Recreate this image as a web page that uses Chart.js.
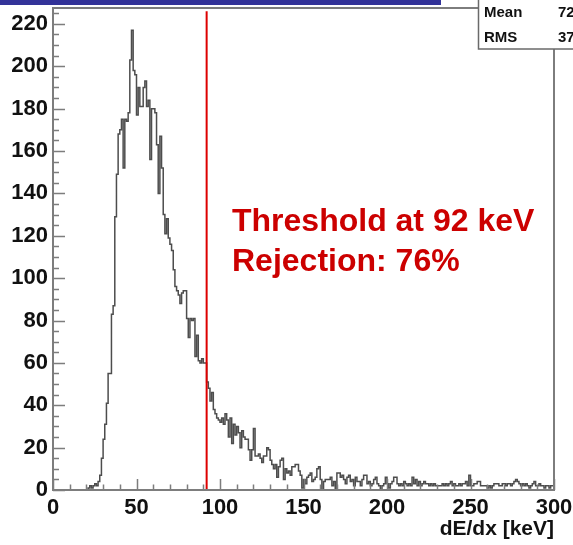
<!DOCTYPE html>
<html>
<head>
<meta charset="utf-8">
<script src="https://cdn.jsdelivr.net/npm/chart.js@4.4.1/dist/chart.umd.min.js"></script>
<style>
  html, body { margin: 0; padding: 0; background: #fff; }
  #wrap { width: 573px; height: 545px; }
</style>
</head>
<body>
<div id="wrap"><canvas id="hist" width="573" height="545"></canvas></div>
<script>
// dE/dx histogram, 1 keV bins from 0 to 300 keV
const xMin = 0;
const xMax = 300;
const binWidth = 1;
const counts = [
  0, 0, 0, 0, 0, 0, 0, 0, 0, 0, 0, 0, 0, 0, 0, 0, 0, 0, 0, 0,
  0, 1, 2, 1, 2, 3, 2, 4, 7, 15, 24, 31, 41, 55, 55, 83, 87, 129, 149, 168,
  170, 175, 152, 175, 174, 178, 203, 217, 198, 196, 177, 190, 181, 181, 190, 193, 181, 184, 156, 180,
  180, 178, 163, 140, 167, 152, 130, 121, 128, 119, 116, 113, 104, 96, 94, 92, 88, 93, 94, 94,
  81, 72, 81, 80, 81, 63, 73, 61, 60, 62, 60, 60, 51, 48, 42, 46, 38, 36, 34, 33,
  32, 34, 31, 36, 33, 25, 34, 22, 31, 26, 30, 27, 20, 28, 25, 24, 24, 19, 14, 19,
  29, 16, 16, 17, 15, 13, 16, 16, 20, 19, 14, 12, 10, 12, 6, 11, 14, 15, 5, 10,
  8, 9, 7, 11, 11, 12, 12, 9, 7, 1, 5, 3, 6, 7, 8, 4, 5, 6, 10, 11,
  5, 0, 4, 5, 5, 5, 6, 2, 4, 0, 8, 8, 6, 7, 5, 3, 6, 7, 4, 5,
  2, 6, 4, 4, 2, 5, 7, 7, 3, 4, 2, 3, 5, 6, 3, 2, 0, 2, 3, 6,
  3, 1, 3, 4, 6, 6, 3, 2, 3, 2, 4, 3, 2, 3, 2, 6, 3, 5, 2, 4,
  2, 3, 4, 3, 3, 2, 3, 2, 3, 2, 2, 2, 2, 3, 2, 3, 2, 3, 4, 2,
  3, 2, 2, 3, 2, 3, 3, 4, 2, 7, 2, 2, 3, 3, 4, 4, 2, 2, 2, 2,
  1, 2, 1, 2, 3, 3, 3, 2, 2, 3, 3, 2, 3, 3, 2, 3, 4, 5, 4, 3,
  2, 3, 2, 3, 2, 1, 2, 3, 4, 2, 2, 3, 2, 2, 1, 2, 2, 1, 2, 2
];
const threshold = 92;
const xTicks = [0, 50, 100, 150, 200, 250, 300];
const yTicks = [0, 20, 40, 60, 80, 100, 120, 140, 160, 180, 200, 220];
const yMax = 227.5;
const xTitle = "dE/dx [keV]";
const noteLines = ["Threshold at 92 keV", "Rejection: 76%"];
const statNames = ["Mean", "RMS"];
const statValues = ["72", "37"];

const FONT = "'Liberation Sans', Arial, Helvetica, sans-serif";

// step outline points: low edge of each bin, plus the closing edge
const binLow = counts.map((c, i) => xMin + i * binWidth);
const histPoints = counts.map((c, i) => ({ x: binLow[i], y: c }));
histPoints.push({ x: xMax, y: counts[counts.length - 1] });

// ROOT-like frame with inward ticks, pad decorations and text
const rootPad = {
  id: "rootPad",
  beforeDraw(chart) {
    const ctx = chart.ctx;
    ctx.save();
    ctx.fillStyle = "#333399";
    ctx.fillRect(0, 0, 441, 5);
    ctx.restore();
  },
  afterDatasetsDraw(chart) {
    const { ctx, chartArea: a, scales } = chart;
    const x = scales.x, y = scales.y;
    ctx.save();
    ctx.strokeStyle = "#7d7d7d";
    ctx.lineWidth = 1.5;
    ctx.beginPath();
    for (let v = xMin; v <= xMax; v += 10) {
      const px = Math.round(x.getPixelForValue(v)) + 0.5;
      const len = v % 50 === 0 ? 11 : 5.5;
      ctx.moveTo(px, a.bottom);
      ctx.lineTo(px, a.bottom - len);
    }
    for (let v = 0; v <= yMax; v += 5) {
      const py = Math.round(y.getPixelForValue(v)) + 0.5;
      const len = v % 20 === 0 ? 12 : 6;
      ctx.moveTo(a.left, py);
      ctx.lineTo(a.left + len, py);
    }
    ctx.stroke();
    ctx.lineWidth = 2;
    ctx.strokeRect(a.left, a.top, a.right - a.left, a.bottom - a.top);
    ctx.restore();
  },
  afterDraw(chart) {
    const ctx = chart.ctx;
    ctx.save();
    // annotation
    ctx.fillStyle = "#cc0000";
    ctx.font = "bold 32px " + FONT;
    ctx.textBaseline = "middle";
    ctx.textAlign = "left";
    ctx.fillText(noteLines[0], 232, 222);
    ctx.fillText(noteLines[1], 232, 262);
    // stats box (cut by the right edge of the pad)
    ctx.fillStyle = "#ffffff";
    ctx.fillRect(478, -2, 100, 51);
    ctx.strokeStyle = "#6a6a6a";
    ctx.lineWidth = 1.5;
    ctx.strokeRect(478.5, -2, 100, 51);
    ctx.fillStyle = "#111";
    ctx.font = "bold 15px " + FONT;
    statNames.forEach((n, i) => {
      const ty = 13 + i * 25;
      ctx.textAlign = "left";
      ctx.fillText(n, 484, ty);
      ctx.fillText(statValues[i], 558, ty);
    });
    ctx.restore();
  }
};

new Chart(document.getElementById("hist"), {
  type: "line",
  data: {
    datasets: [
      {
        data: histPoints,
        stepped: "before",
        borderColor: "#4d4d4d",
        borderWidth: 1.5,
        pointRadius: 0,
        fill: false,
        order: 2
      },
      {
        data: [{ x: threshold, y: 0 }, { x: threshold, y: 226 }],
        borderColor: "#dd0000",
        borderWidth: 2,
        pointRadius: 0,
        fill: false,
        order: 1
      }
    ]
  },
  options: {
    responsive: false,
    animation: false,
    layout: { padding: { left: 0, right: 19, top: 8, bottom: 0 } },
    plugins: {
      legend: { display: false },
      tooltip: { enabled: false }
    },
    scales: {
      x: {
        type: "linear",
        min: xMin,
        max: xMax,
        afterBuildTicks: (s) => { s.ticks = xTicks.map((v) => ({ value: v })); },
        afterFit: (s) => { s.height = 55; s.paddingLeft = 0; s.paddingRight = 0; },
        grid: { display: false, drawTicks: false },
        border: { display: false },
        ticks: {
          color: "#111",
          padding: 5,
          maxRotation: 0,
          autoSkip: false,
          font: { family: FONT, size: 22, weight: "bold" }
        },
        title: {
          display: true,
          text: xTitle,
          align: "end",
          color: "#111",
          padding: { top: 0, bottom: 3 },
          font: { family: FONT, size: 21, weight: "bold" }
        }
      },
      y: {
        min: 0,
        max: yMax,
        afterBuildTicks: (s) => { s.ticks = yTicks.map((v) => ({ value: v })); },
        afterFit: (s) => { s.width = 53; s.paddingTop = 0; s.paddingBottom = 0; },
        grid: { display: false, drawTicks: false },
        border: { display: false },
        ticks: {
          color: "#111",
          padding: 5,
          autoSkip: false,
          font: { family: FONT, size: 22, weight: "bold" }
        }
      }
    }
  },
  plugins: [rootPad]
});
</script>
</body>
</html>
